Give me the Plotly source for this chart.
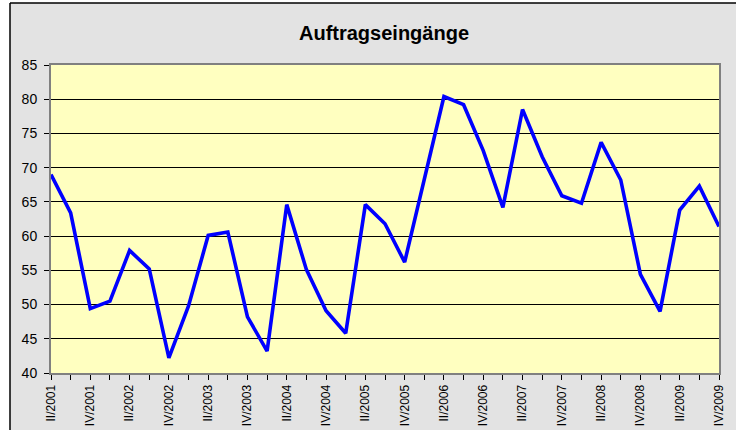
import plotly.graph_objects as go

quarters = ["II/2001", "III/2001", "IV/2001",
            "I/2002", "II/2002", "III/2002", "IV/2002",
            "I/2003", "II/2003", "III/2003", "IV/2003",
            "I/2004", "II/2004", "III/2004", "IV/2004",
            "I/2005", "II/2005", "III/2005", "IV/2005",
            "I/2006", "II/2006", "III/2006", "IV/2006",
            "I/2007", "II/2007", "III/2007", "IV/2007",
            "I/2008", "II/2008", "III/2008", "IV/2008",
            "I/2009", "II/2009", "III/2009", "IV/2009"]
values = [69.0, 63.4, 49.4,
          50.5, 57.9, 55.2, 42.2,
          49.8, 60.1, 60.6, 48.2,
          43.2, 64.6, 55.1, 49.1,
          45.8, 64.6, 61.8, 56.2,
          68.2, 80.4, 79.2, 72.5,
          64.2, 78.5, 71.6, 65.9,
          64.8, 73.7, 68.2, 54.4,
          49.0, 63.8, 67.3, 61.4]
y_ticks = [40, 45, 50, 55, 60, 65, 70, 75, 80, 85]
title = "Auftragseingänge"

idx = list(range(len(quarters)))
label_idx = idx[::2]
label_txt = [quarters[i] for i in label_idx]

fig = go.Figure()
fig.add_trace(go.Scatter(x=idx, y=values, mode="lines",
                         line=dict(color="#0000FF", width=3.6),
                         hoverinfo="skip", showlegend=False))

W, H = 736, 430
ml, mr, mt, mb = 51, 17, 65, 57
pw, ph = W - ml - mr, H - mt - mb

def px(x):
    return (x - ml) / pw

def py(y):
    return (H - mb - y) / ph

shapes = [
    dict(type="rect", xref="paper", yref="paper", x0=px(-5), x1=px(10), y0=py(H + 5), y1=py(-5),
         fillcolor="white", line=dict(width=0), layer="below"),
    dict(type="rect", xref="paper", yref="paper", x0=px(-5), x1=px(W + 5), y0=py(3), y1=py(-5),
         fillcolor="white", line=dict(width=0), layer="below"),
    dict(type="line", xref="paper", yref="paper", x0=px(10), x1=px(10), y0=py(3), y1=py(H + 5),
         line=dict(color="black", width=1.5), layer="below"),
    dict(type="line", xref="paper", yref="paper", x0=px(10), x1=px(W + 5), y0=py(3), y1=py(3),
         line=dict(color="black", width=1.5), layer="below"),
]

fig.update_layout(
    width=W, height=H,
    margin=dict(l=ml, r=mr, t=mt, b=mb),
    paper_bgcolor="#E3E3E3",
    plot_bgcolor="#FFFFC0",
    font=dict(family="Liberation Sans, Arial, sans-serif", color="black"),
    title=dict(text="<b>" + title + "</b>", xref="container", x=384 / W, xanchor="center",
               yref="container", y=1 - 33 / H, yanchor="middle", font=dict(size=20)),
    shapes=shapes,
    xaxis=dict(range=[0, len(quarters) - 1], tickmode="array", tickvals=label_idx,
               ticktext=label_txt, tickangle=-90, tickfont=dict(size=12),
               ticks="outside", ticklen=5, tickcolor="black", showgrid=False,
               showline=True, linecolor="#808080", linewidth=2, mirror=True,
               minor=dict(tickmode="linear", tick0=0, dtick=1, ticks="outside",
                          ticklen=5, tickcolor="black", showgrid=False),
               zeroline=False, fixedrange=True, automargin=False),
    yaxis=dict(range=[40, 85], tickmode="array", tickvals=y_ticks,
               tickfont=dict(size=14), ticks="outside", ticklen=5, tickcolor="black",
               showgrid=True, gridcolor="black", gridwidth=1,
               showline=True, linecolor="#808080", linewidth=2, mirror=True,
               zeroline=False, fixedrange=True, ticklabelstandoff=4, automargin=False),
)

fig.write_html("out.html", config={"displayModeBar": False},
               post_script="document.body.style.margin='0';document.body.style.overflow='hidden';")
